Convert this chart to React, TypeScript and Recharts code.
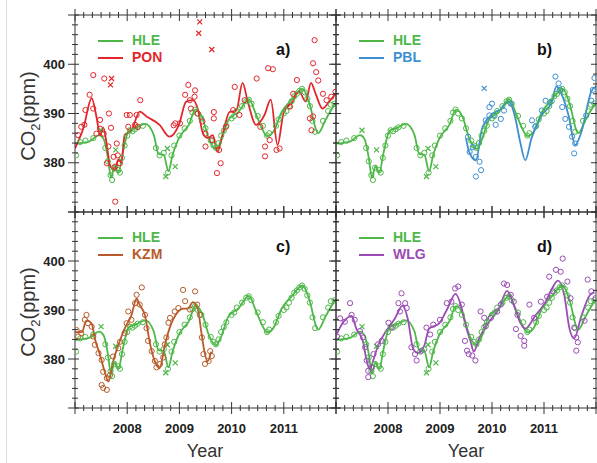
import React from "react";
import { ComposedChart, Line, Scatter, XAxis, YAxis } from "recharts";

const FONT = '"Liberation Sans", Arial, sans-serif';
const AXIS = "#333";

const GREEN = "#4db848";
const RED = "#e3262b";
const BLUE = "#3d8fd1";
const BROWN = "#b85a2a";
const PURPLE = "#9b4bb5";

// tick labels
const yearLabels = [2008, 2009, 2010, 2011];
const ppmLabels = [380, 390, 400];

// HLE smoothed curve [decimal year, ppm]
const hleCurve = [
  [2007.0, 383.9], [2007.1, 384.0], [2007.27, 384.3], [2007.46, 385.6], [2007.55, 384.8],
  [2007.63, 381.0], [2007.69, 377.0], [2007.76, 379.3], [2007.83, 378.0], [2007.92, 382.3],
  [2008.03, 386.5], [2008.16, 387.0], [2008.35, 387.9], [2008.51, 385.6], [2008.6, 381.8],
  [2008.7, 381.6], [2008.79, 378.3], [2008.87, 381.6], [2008.99, 385.0], [2009.18, 387.7],
  [2009.31, 390.8], [2009.43, 389.4], [2009.56, 385.0], [2009.7, 382.8], [2009.79, 384.3],
  [2009.94, 388.7], [2010.13, 390.3], [2010.33, 392.9], [2010.45, 390.3], [2010.58, 387.0],
  [2010.68, 385.4], [2010.8, 386.3], [2010.96, 390.3], [2011.15, 392.8], [2011.36, 395.0],
  [2011.48, 392.4], [2011.66, 386.0], [2011.8, 388.7], [2011.95, 391.4], [2012.0, 392.0],
];

// HLE observations
const hleObs = [
  [2007.02, 381.5], [2007.1, 384.2], [2007.2, 384.5], [2007.35, 385.0], [2007.58, 383.0],
  [2007.63, 380.3], [2007.68, 377.5], [2007.71, 376.5], [2007.75, 379.0], [2007.83, 378.5],
  [2007.86, 378.0], [2007.9, 381.0], [2007.95, 383.5], [2008.0, 385.5], [2008.05, 386.6],
  [2008.1, 386.4], [2008.15, 386.8], [2008.2, 387.2], [2008.3, 387.5], [2008.55, 383.0],
  [2008.62, 381.5], [2008.7, 382.0], [2008.78, 378.0], [2008.85, 381.5], [2008.9, 383.5],
  [2009.0, 385.5], [2009.1, 387.0], [2009.2, 388.5], [2009.25, 390.2], [2009.3, 390.8],
  [2009.35, 390.0], [2009.42, 389.0], [2009.5, 387.0], [2009.6, 384.5], [2009.65, 383.5],
  [2009.7, 383.0], [2009.75, 384.0], [2009.8, 385.5], [2009.85, 386.5], [2009.9, 387.5],
  [2010.0, 389.0], [2010.05, 389.5], [2010.1, 390.5], [2010.2, 391.5], [2010.28, 392.5],
  [2010.33, 392.8], [2010.38, 392.0], [2010.5, 389.5], [2010.6, 387.5], [2010.68, 385.5],
  [2010.72, 386.0], [2010.85, 387.5], [2010.9, 388.8], [2011.0, 390.0], [2011.05, 390.5],
  [2011.1, 391.5], [2011.15, 392.5], [2011.2, 393.5], [2011.25, 394.0], [2011.3, 394.6],
  [2011.35, 395.0], [2011.4, 394.3], [2011.45, 393.0], [2011.5, 391.5], [2011.55, 388.5],
  [2011.6, 386.3], [2011.75, 388.5], [2011.85, 390.5], [2011.9, 391.8], [2011.97, 392.0],
];
const hleCross = [
  [2007.5, 386.6], [2007.78, 382.6], [2008.77, 382.9], [2008.74, 377.2], [2008.92, 379.2],
];

// PON
const ponCurve = [
  [2007.0, 382.9], [2007.16, 387.0], [2007.32, 393.1], [2007.41, 389.4], [2007.48, 385.6],
  [2007.54, 387.2], [2007.6, 384.3], [2007.67, 379.5], [2007.76, 378.4], [2007.83, 380.7],
  [2007.89, 380.0], [2007.95, 385.6], [2008.08, 386.5], [2008.24, 390.4], [2008.37, 389.4],
  [2008.62, 387.7], [2008.81, 385.3], [2008.99, 387.7], [2009.13, 392.4], [2009.26, 392.7],
  [2009.35, 391.0], [2009.45, 386.0], [2009.54, 385.0], [2009.64, 385.6], [2009.73, 382.2],
  [2009.83, 385.9], [2009.96, 390.3], [2010.09, 390.6], [2010.21, 396.2], [2010.31, 392.4],
  [2010.47, 387.7], [2010.63, 389.7], [2010.75, 392.8], [2010.88, 383.6], [2011.0, 390.3],
  [2011.17, 392.4], [2011.29, 394.5], [2011.42, 392.4], [2011.52, 396.2], [2011.61, 394.0],
  [2011.74, 391.0], [2011.87, 392.4], [2011.99, 394.0],
];
const ponObs = [
  [2007.06, 385.6], [2007.12, 387.3], [2007.18, 387.7], [2007.2, 390.7], [2007.28, 393.8],
  [2007.35, 391.0], [2007.35, 397.8], [2007.41, 385.9], [2007.48, 386.9], [2007.48, 388.7],
  [2007.55, 385.9], [2007.56, 397.1], [2007.61, 379.9], [2007.64, 383.3], [2007.65, 390.0],
  [2007.69, 387.1], [2007.74, 381.2], [2007.77, 379.2], [2007.77, 372.1], [2007.8, 383.9],
  [2007.82, 381.5], [2007.86, 379.9], [2007.99, 389.7], [2008.02, 387.3], [2008.05, 389.7],
  [2008.15, 387.7], [2008.18, 389.7], [2008.2, 387.3], [2008.25, 392.7], [2008.89, 387.6],
  [2008.92, 388.0], [2009.01, 388.0], [2009.11, 393.8], [2009.17, 395.8], [2009.2, 392.7],
  [2009.22, 391.0], [2009.29, 393.4], [2009.3, 394.7], [2009.35, 390.0], [2009.44, 388.4],
  [2009.5, 385.9], [2009.5, 383.3], [2009.63, 384.6], [2009.66, 389.0], [2009.66, 390.3],
  [2009.72, 377.9], [2009.76, 382.6], [2009.79, 379.9], [2009.89, 387.3], [2010.03, 390.7],
  [2010.06, 395.4], [2010.15, 389.7], [2010.25, 392.7], [2010.48, 397.1], [2010.55, 387.3],
  [2010.64, 383.3], [2010.64, 381.3], [2010.7, 399.2], [2010.73, 384.6], [2010.79, 399.0],
  [2010.86, 382.6], [2010.92, 382.9], [2011.12, 391.4], [2011.18, 394.0], [2011.25, 396.8],
  [2011.5, 389.0], [2011.53, 386.6], [2011.56, 389.4], [2011.56, 400.2], [2011.59, 404.9],
  [2011.62, 398.4], [2011.66, 396.7], [2011.75, 394.0], [2011.82, 392.7], [2011.91, 393.4],
  [2011.99, 394.4],
];
const ponCross = [
  [2009.39, 408.6], [2009.37, 406.3], [2009.62, 403.0], [2007.7, 397.1], [2007.68, 395.8],
];

// PBL
const pblCurve = [
  [2009.5, 385.0], [2009.56, 382.2], [2009.69, 380.5], [2009.81, 387.0], [2009.99, 389.7],
  [2010.18, 391.0], [2010.32, 392.4], [2010.45, 389.0], [2010.54, 384.3], [2010.64, 380.5],
  [2010.76, 385.0], [2010.96, 389.7], [2011.15, 392.4], [2011.24, 395.5], [2011.34, 393.9],
  [2011.47, 389.7], [2011.6, 383.6], [2011.72, 386.3], [2011.91, 394.5], [2012.0, 395.5],
];
const pblObs = [
  [2009.54, 385.3], [2009.57, 382.2], [2009.63, 383.2], [2009.69, 381.2], [2009.76, 380.2],
  [2009.79, 378.5], [2009.69, 377.2], [2009.88, 388.6], [2009.95, 391.3], [2009.95, 389.6],
  [2010.0, 392.0], [2010.03, 389.6], [2010.07, 387.7], [2010.17, 388.9], [2010.23, 390.6],
  [2010.36, 392.0], [2010.77, 388.6], [2010.83, 387.3], [2010.96, 390.6], [2011.03, 392.6],
  [2011.12, 392.3], [2011.22, 397.5], [2011.28, 396.1], [2011.31, 394.8], [2011.35, 391.3],
  [2011.41, 388.9], [2011.48, 387.3], [2011.54, 385.3], [2011.6, 383.9], [2011.58, 381.9],
  [2011.81, 389.6], [2011.91, 392.6], [2011.94, 394.8], [2011.97, 397.2],
];
const pblCross = [[2009.85, 395.1]];

// KZM
const kzmCurve = [
  [2007.0, 385.5], [2007.13, 385.5], [2007.22, 387.9], [2007.32, 387.2], [2007.38, 384.2],
  [2007.48, 380.8], [2007.57, 377.4], [2007.64, 375.4], [2007.73, 379.5], [2007.83, 382.8],
  [2007.95, 386.2], [2008.08, 388.9], [2008.18, 392.3], [2008.24, 391.0], [2008.34, 388.9],
  [2008.43, 383.5], [2008.53, 379.5], [2008.62, 378.1], [2008.72, 382.8], [2008.81, 386.2],
  [2008.97, 389.6], [2009.07, 390.3], [2009.16, 390.3], [2009.26, 391.6], [2009.35, 390.3],
  [2009.42, 385.5], [2009.48, 381.5], [2009.54, 379.5], [2009.61, 381.5],
];
const kzmObs = [
  [2007.03, 385.9], [2007.06, 384.6], [2007.12, 385.3], [2007.19, 388.0], [2007.22, 389.0],
  [2007.25, 387.3], [2007.32, 386.6], [2007.35, 384.6], [2007.38, 382.9], [2007.45, 381.2],
  [2007.51, 379.8], [2007.54, 377.4], [2007.61, 376.1], [2007.51, 374.7], [2007.54, 374.1],
  [2007.61, 373.7], [2007.67, 376.7], [2007.73, 380.5], [2007.83, 382.2], [2007.86, 383.5],
  [2007.95, 385.3], [2007.99, 387.3], [2008.02, 389.7], [2008.08, 388.0], [2008.15, 391.4],
  [2008.18, 393.1], [2008.28, 394.6], [2008.24, 391.1], [2008.34, 389.0], [2008.37, 386.3],
  [2008.4, 383.7], [2008.47, 381.6], [2008.53, 379.6], [2008.56, 378.3], [2008.63, 379.0],
  [2008.69, 380.3], [2008.72, 383.0], [2008.75, 384.4], [2008.79, 387.4], [2008.82, 388.4],
  [2008.91, 389.7], [2008.98, 390.4], [2009.07, 394.1], [2009.11, 391.8], [2009.2, 390.1],
  [2009.3, 393.8], [2009.34, 391.1], [2009.39, 389.0], [2009.43, 384.4], [2009.46, 381.0],
  [2009.49, 379.0], [2009.56, 379.6], [2009.59, 381.6], [2009.62, 380.6],
];

// WLG
const wlgCurve = [
  [2007.0, 384.8], [2007.14, 387.5], [2007.3, 388.8], [2007.39, 386.2], [2007.52, 383.5],
  [2007.58, 380.2], [2007.65, 377.8], [2007.71, 379.5], [2007.81, 382.8], [2007.97, 385.8],
  [2008.13, 388.2], [2008.28, 390.9], [2008.38, 388.2], [2008.48, 382.2], [2008.57, 381.2],
  [2008.7, 382.8], [2008.79, 386.2], [2008.98, 387.2], [2009.14, 390.2], [2009.3, 393.3],
  [2009.4, 391.0], [2009.49, 387.0], [2009.59, 383.5], [2009.65, 381.5], [2009.75, 384.2],
  [2009.94, 387.5], [2010.13, 390.2], [2010.29, 393.9], [2010.42, 391.0], [2010.54, 387.5],
  [2010.64, 386.2], [2010.83, 388.8], [2011.02, 391.5], [2011.15, 394.3], [2011.27, 396.0],
  [2011.39, 393.0], [2011.49, 386.2], [2011.58, 384.2], [2011.72, 388.8], [2011.88, 393.0],
  [2011.97, 393.6],
];
const wlgObs = [
  [2007.02, 384.6], [2007.08, 388.3], [2007.17, 387.6], [2007.27, 391.4], [2007.3, 389.0],
  [2007.36, 388.0], [2007.46, 385.7], [2007.52, 384.4], [2007.56, 382.4], [2007.59, 379.7],
  [2007.62, 377.6], [2007.62, 376.3], [2007.69, 378.3], [2007.72, 381.0], [2007.81, 383.0],
  [2007.88, 383.7], [2008.01, 387.4], [2008.07, 386.4], [2008.2, 391.4], [2008.23, 389.7],
  [2008.26, 393.4], [2008.33, 391.4], [2008.36, 390.4], [2008.45, 382.4], [2008.52, 381.0],
  [2008.55, 379.7], [2008.65, 381.7], [2008.74, 386.4], [2008.81, 385.0], [2008.87, 387.0],
  [2009.0, 388.0], [2009.13, 391.4], [2009.22, 391.7], [2009.29, 394.4], [2009.35, 394.8],
  [2009.42, 391.1], [2009.48, 383.7], [2009.52, 381.7], [2009.55, 381.0], [2009.62, 380.7],
  [2009.68, 379.7], [2009.78, 389.7], [2009.85, 388.4], [2009.88, 386.7], [2009.98, 388.4],
  [2010.1, 389.7], [2010.17, 391.1], [2010.23, 395.4], [2010.29, 395.1], [2010.36, 393.1],
  [2010.42, 391.7], [2010.46, 386.1], [2010.49, 389.0], [2010.55, 384.7], [2010.62, 383.7],
  [2010.62, 382.7], [2010.72, 391.1], [2010.81, 388.4], [2010.94, 391.7], [2011.06, 392.7],
  [2011.1, 396.8], [2011.17, 393.8], [2011.23, 398.2], [2011.32, 397.8], [2011.36, 400.5],
  [2011.45, 395.8], [2011.51, 392.4], [2011.58, 386.4], [2011.62, 384.4], [2011.62, 381.7],
  [2011.65, 383.4], [2011.78, 387.8], [2011.84, 396.2], [2011.91, 393.8], [2011.99, 392.4],
];

const pts = (arr: number[][]) => arr.map(([t, v]) => ({ t, v }));

const xTicks = Array.from({ length: 31 }, (_, i) => 2007 + i / 6);
const yTicks = Array.from({ length: 21 }, (_, i) => 370 + i * 2);
const isMajorYear = (v: number) => Math.abs(v - Math.round(v)) < 1e-6;

const circleShape = (color: string) => (p: any) => (
  <circle cx={p.cx} cy={p.cy} r={2.6} fill="none" stroke={color} strokeWidth={1} />
);
const crossShape = (color: string) => (p: any) => (
  <path
    d={`M${p.cx - 2.5},${p.cy - 2.5}L${p.cx + 2.5},${p.cy + 2.5}M${p.cx - 2.5},${p.cy + 2.5}L${p.cx + 2.5},${p.cy - 2.5}`}
    stroke={color}
    strokeWidth={1.2}
  />
);

function bottomTick(showLabel: boolean) {
  return (p: any) => {
    const v = p.payload.value;
    const major = isMajorYear(v);
    const yr = Math.round(v);
    return (
      <g>
        <line x1={p.x} x2={p.x} y1={p.y - (major ? 6 : 3)} y2={p.y + (major ? 6 : 3)} stroke={AXIS} />
        {showLabel && major && yearLabels.includes(yr) && (
          <text x={p.x} y={p.y + 24.5} textAnchor="middle" fontSize={13} fontWeight="bold" fill="#222" fontFamily={FONT}>
            {yr}
          </text>
        )}
      </g>
    );
  };
}

function topTick(p: any) {
  const major = isMajorYear(p.payload.value);
  return <line x1={p.x} x2={p.x} y1={p.y - (major ? 6 : 3)} y2={p.y + (major ? 6 : 3)} stroke={AXIS} />;
}

function leftTick(showLabel: boolean) {
  return (p: any) => {
    const v = Math.round(p.payload.value);
    const major = v % 10 === 0;
    return (
      <g>
        <line x1={p.x - (major ? 7 : 3)} x2={p.x + (major ? 4 : 3)} y1={p.y} y2={p.y} stroke={AXIS} />
        {showLabel && ppmLabels.includes(v) && (
          <text x={p.x - 10} y={p.y + 4.5} textAnchor="end" fontSize={13} fontWeight="bold" fill="#222" fontFamily={FONT}>
            {v}
          </text>
        )}
      </g>
    );
  };
}

function rightTick(p: any) {
  const v = Math.round(p.payload.value);
  const major = v % 10 === 0;
  return <line x1={p.x - (major ? 5 : 3)} x2={p.x + (major ? 5 : 3)} y1={p.y} y2={p.y} stroke={AXIS} />;
}

interface PanelProps {
  left: number;
  top: number;
  w: number;
  h: number;
  tag: string;
  name: string;
  color: string;
  curve: number[][];
  obs: number[][];
  cross?: number[][];
  bottom: boolean;
  leftLabels: boolean;
}

const L = 75;
const T = 10;
const R = 10;
const B = 55;

function Panel({ left, top, w, h, tag, name, color, curve, obs, cross, bottom, leftLabels }: PanelProps) {
  const cw = w + L + R;
  const ch = h + T + B;
  return (
    <>
      <div style={{ position: "absolute", left: left - L, top: top - T, width: cw, height: ch }}>
        <ComposedChart width={cw} height={ch} margin={{ top: 0, right: 0, bottom: 0, left: 0 }}>
          <XAxis
            xAxisId="b"
            dataKey="t"
            type="number"
            domain={[2007, 2012]}
            allowDataOverflow
            ticks={xTicks}
            interval={0}
            height={B}
            tickSize={0}
            tickMargin={0}
            tickLine={false}
            axisLine={{ stroke: AXIS }}
            tick={bottomTick(bottom)}
          />
          <XAxis
            xAxisId="t"
            orientation="top"
            dataKey="t"
            type="number"
            domain={[2007, 2012]}
            allowDataOverflow
            ticks={xTicks}
            interval={0}
            height={T}
            tickSize={0}
            tickMargin={0}
            tickLine={false}
            axisLine={{ stroke: AXIS }}
            tick={topTick}
          />
          <YAxis
            yAxisId="l"
            dataKey="v"
            type="number"
            domain={[370, 410]}
            allowDataOverflow
            ticks={yTicks}
            interval={0}
            width={L}
            tickSize={0}
            tickMargin={0}
            tickLine={false}
            axisLine={{ stroke: AXIS }}
            tick={leftTick(leftLabels)}
          />
          <YAxis
            yAxisId="r"
            orientation="right"
            dataKey="v"
            type="number"
            domain={[370, 410]}
            allowDataOverflow
            ticks={yTicks}
            interval={0}
            width={R}
            tickSize={0}
            tickMargin={0}
            tickLine={false}
            axisLine={{ stroke: AXIS }}
            tick={rightTick}
          />
          <Scatter xAxisId="b" yAxisId="l" data={pts(hleObs)} dataKey="v" shape={circleShape(GREEN)} isAnimationActive={false} />
          <Scatter xAxisId="b" yAxisId="l" data={pts(hleCross)} dataKey="v" shape={crossShape(GREEN)} isAnimationActive={false} />
          <Scatter xAxisId="b" yAxisId="l" data={pts(obs)} dataKey="v" shape={circleShape(color)} isAnimationActive={false} />
          {cross && (
            <Scatter xAxisId="b" yAxisId="l" data={pts(cross)} dataKey="v" shape={crossShape(color)} isAnimationActive={false} />
          )}
          <Line xAxisId="b" yAxisId="l" data={pts(hleCurve)} dataKey="v" type="monotone" stroke={GREEN} strokeWidth={1.8} dot={false} isAnimationActive={false} />
          <Line xAxisId="b" yAxisId="l" data={pts(curve)} dataKey="v" type="monotone" stroke={color} strokeWidth={1.8} dot={false} isAnimationActive={false} />
        </ComposedChart>
      </div>
      {/* legend */}
      <div style={{ position: "absolute", left: left + 23, top: top + 25, width: 25, borderTop: `2px solid ${GREEN}` }} />
      <div style={{ position: "absolute", left: left + 23, top: top + 42, width: 25, borderTop: `2px solid ${color}` }} />
      <div style={{ position: "absolute", left: left + 57, top: top + 17, font: `bold 14px ${FONT}`, color: GREEN, lineHeight: "17px" }}>HLE</div>
      <div style={{ position: "absolute", left: left + 57, top: top + 34, font: `bold 14px ${FONT}`, color, lineHeight: "17px" }}>{name}</div>
      <div style={{ position: "absolute", left: left + 201, top: top + 25, font: `bold 16px ${FONT}`, color: "#111", lineHeight: "19px" }}>{tag}</div>
    </>
  );
}

function YLabel({ cy }: { cy: number }) {
  return (
    <div
      style={{
        position: "absolute",
        left: 28 - 60,
        top: cy - 12,
        width: 120,
        height: 24,
        textAlign: "center",
        transform: "rotate(-90deg)",
        font: `20px ${FONT}`,
        color: "#333",
        lineHeight: "24px",
      }}
    >
      CO<sub style={{ fontSize: 13 }}>2</sub>(ppm)
    </div>
  );
}

export default function App() {
  return (
    <div style={{ position: "absolute", left: 0, top: 0, width: 597, height: 463, overflow: "hidden", background: "#fff" }}>
      <div style={{ position: "absolute", left: 6, top: 0, width: 0, height: 463, borderLeft: "1px solid #ddd" }} />
      <Panel left={75} top={15} w={261} h={197} tag="a)" name="PON" color={RED} curve={ponCurve} obs={ponObs} cross={ponCross} bottom={false} leftLabels />
      <Panel left={336} top={15} w={260} h={197} tag="b)" name="PBL" color={BLUE} curve={pblCurve} obs={pblObs} cross={pblCross} bottom={false} leftLabels={false} />
      <Panel left={75} top={212} w={261} h={196} tag="c)" name="KZM" color={BROWN} curve={kzmCurve} obs={kzmObs} bottom leftLabels />
      <Panel left={336} top={212} w={260} h={196} tag="d)" name="WLG" color={PURPLE} curve={wlgCurve} obs={wlgObs} bottom leftLabels={false} />
      <YLabel cy={116} />
      <YLabel cy={312} />
      <div style={{ position: "absolute", left: 165, top: 440, width: 80, textAlign: "center", font: `18px ${FONT}`, color: "#333", lineHeight: "22px" }}>Year</div>
      <div style={{ position: "absolute", left: 426, top: 440, width: 80, textAlign: "center", font: `18px ${FONT}`, color: "#333", lineHeight: "22px" }}>Year</div>
    </div>
  );
}
